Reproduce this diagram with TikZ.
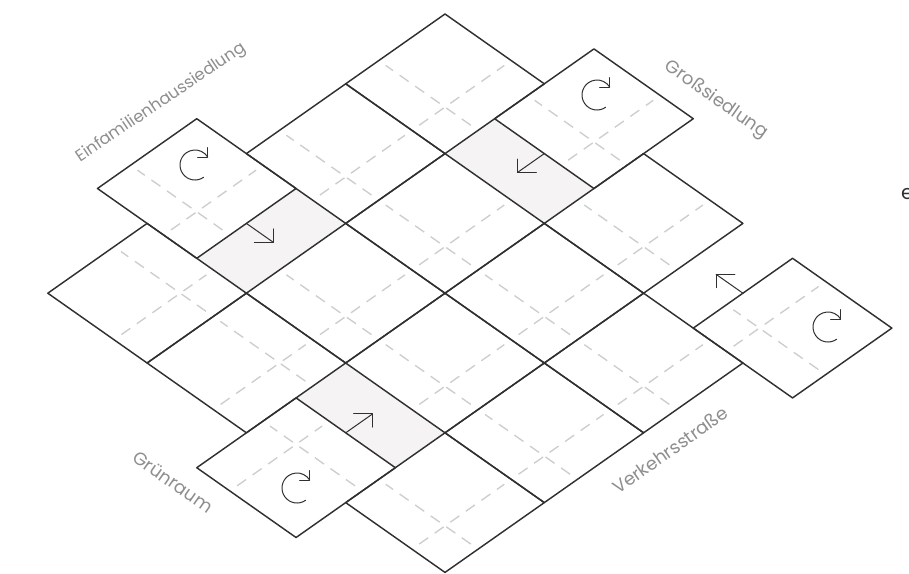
\documentclass[tikz,border=0pt]{standalone}
\usepackage{fontspec}
\setmainfont{Poppins}
\usetikzlibrary{arrows.meta,calc}
\definecolor{edgec}{HTML}{303030}
\definecolor{dashc}{HTML}{CDCDCD}
\definecolor{shadec}{HTML}{F5F3F3}
\definecolor{lblc}{HTML}{8E8E8E}
\tikzset{
  solidln/.style={draw=edgec, line width=1.45pt, line join=round},
  dashln/.style={draw=dashc, line width=1.35pt, dash pattern=on 11pt off 8pt, dash phase=2pt},
  arrln/.style={draw=edgec, line width=1pt, line cap=round, line join=round},
  lbl/.style={text=lblc, font=\fontsize{18}{20}\selectfont, inner sep=0pt},
}
% unit cell outline with top corner (i0,j0)
\newcommand\gcell[2]{\draw[solidln] (#1,#2) -- ({#1+1},#2) -- ({#1+1},{#2+1}) -- (#1,{#2+1}) -- cycle;}
% dashed cross in a unit cell at offsets a,b
\newcommand\gcross[4]{%
  \draw[dashln] ({#1+#3},{#2+0.07}) -- ({#1+#3},{#2+0.93});
  \draw[dashln] ({#1+0.07},{#2+#4}) -- ({#1+0.93},{#2+#4});}
\begin{document}
\begin{tikzpicture}[x=1pt,y=-1pt]
\useasboundingbox (0,0) rectangle (909,573);
\begin{scope}[shift={(445pt,-14pt)}, x={(-99.3pt,-69.8pt)}, y={(99.3pt,-69.8pt)}]
  % shaded vacated half cells
  \fill[shadec] (2,0.5) -- (3,0.5) -- (3,1) -- (2,1) -- cycle;
  \fill[shadec] (0.5,1) -- (1,1) -- (1,2) -- (0.5,2) -- cycle;
  \fill[shadec] (3,2) -- (3.5,2) -- (3.5,3) -- (3,3) -- cycle;
  % dashed subdivisions
  \gcross{0}{0}{0.667}{0.667}
  \gcross{1}{0}{0.667}{0.667}
  \gcross{3}{0}{0.333}{0.667}
  \gcross{0}{2}{0.667}{0.667}
  \gcross{1}{1}{0.667}{0.667}
  \gcross{2}{1}{0.667}{0.667}
  \gcross{3}{1}{0.333}{0.667}
  \gcross{1}{2}{0.667}{0.667}
  \gcross{2}{2}{0.667}{0.667}
  \gcross{1}{3}{0.667}{0.667}
  \gcross{2}{3}{0.667}{0.667}
  \gcross{3}{3}{0.667}{0.667}
  \gcross{2}{-0.5}{0.667}{0.667}
  \gcross{-0.5}{1}{0.667}{0.667}
  \gcross{0}{3.5}{0.667}{0.333}
  \gcross{3.5}{2}{0.333}{0.333}
  % solid cells
  \gcell{0}{0}\gcell{1}{0}\gcell{3}{0}\gcell{0}{2}
  \gcell{1}{1}\gcell{2}{1}\gcell{3}{1}\gcell{1}{2}
  \gcell{2}{2}\gcell{1}{3}\gcell{2}{3}\gcell{3}{3}
  % displaced tiles
  \gcell{2}{-0.5}\gcell{-0.5}{1}\gcell{0}{3.5}\gcell{3.5}{2}
  % direction arrows (drawn in the plane)
  \coordinate (eA) at (2.5,0.5);  \coordinate (eB) at (2.5,0.77);
  \coordinate (gA) at (0.5,1.5);  \coordinate (gB) at (0.77,1.5);
  \coordinate (rA) at (3.5,2.5);  \coordinate (rB) at (3.23,2.5);
  \coordinate (sA) at (0.5,3.5);  \coordinate (sB) at (0.5,3.23);
  \draw[arrln] (eA) -- (eB);
  \draw[arrln] ($(eB)+(-0.095,-0.095)$) -- (eB) -- ($(eB)+(0.095,-0.095)$);
  \draw[arrln] (gA) -- (gB);
  \draw[arrln] ($(gB)+(-0.095,0.095)$) -- (gB) -- ($(gB)+(-0.095,-0.095)$);
  \draw[arrln] (rA) -- (rB);
  \draw[arrln] ($(rB)+(0.095,0.095)$) -- (rB) -- ($(rB)+(0.095,-0.095)$);
  \draw[arrln] (sA) -- (sB);
  \draw[arrln] ($(sB)+(0.095,0.095)$) -- (sB) -- ($(sB)+(-0.095,0.095)$);
\end{scope}
% rotation arrows
\foreach \nm/\cx/\cy in {rotE/195/165, rotG/597/95, rotR/828/327, rotN/297/488}{
  \coordinate (\nm) at (\cx,\cy);
  \draw[arrln] (\nm) ++(55:15) arc[start angle=55, end angle=328, radius=15] coordinate (\nm tip);
  \draw[arrln] ($(\nm tip)+(-10,0)$) -- (\nm tip) -- ($(\nm tip)+(0,-9.5)$);
}
% labels
\node[lbl, rotate=34, font=\fontsize{16.5}{18}\selectfont] (einf) at (161,103) {Einfamilienhaussiedlung};
\node[lbl, rotate=-35] (gross) at (716,100) {Großsiedlung};
\node[lbl, rotate=-35] (gruen) at (173,482) {Grünraum};
\node[lbl, rotate=35] (verk) at (670,450) {Verkehrsstraße};
\node[anchor=west, inner sep=0pt, text=edgec, font=\fontsize{20}{22}\selectfont] (cutoff) at (901,194) {e};
\end{tikzpicture}
\end{document}
